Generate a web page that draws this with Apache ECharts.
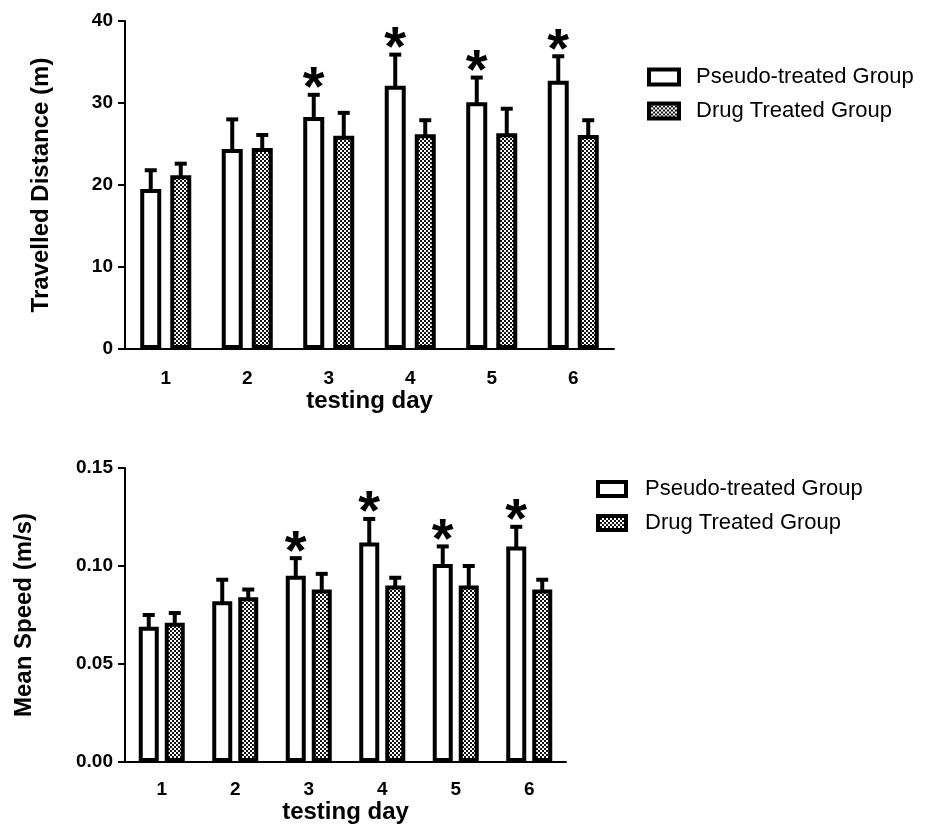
<!DOCTYPE html>
<html>
<head>
<meta charset="utf-8">
<title>Travelled distance and mean speed</title>
<script src="https://cdn.jsdelivr.net/npm/echarts@6/dist/echarts.min.js"></script>
<style>
  html, body { margin: 0; padding: 0; background: #fff; }
  #chart { width: 935px; height: 830px; }
</style>
</head>
<body>
<div id="chart"></div>
<script>
// data
var days = ['1', '2', '3', '4', '5', '6']
var seriesNames = ['Pseudo-treated Group', 'Drug Treated Group']

var distPseudo = [19.5, 24.4, 28.3, 32.1, 30.1, 32.7]
var distPseudoErr = [2.3, 3.6, 2.7, 3.8, 3.0, 3.0]
var distDrug = [21.2, 24.5, 26.0, 26.2, 26.3, 26.1]
var distDrugErr = [1.4, 1.6, 2.8, 1.7, 3.0, 1.8]

var speedPseudo = [0.069, 0.082, 0.095, 0.112, 0.101, 0.110]
var speedPseudoErr = [0.006, 0.011, 0.009, 0.012, 0.009, 0.010]
var speedDrug = [0.071, 0.084, 0.088, 0.090, 0.090, 0.088]
var speedDrugErr = [0.005, 0.004, 0.008, 0.004, 0.010, 0.005]

// 1 = significant (asterisk over the pseudo-treated bar)
var significant = [0, 0, 1, 1, 1, 1]

var FONT = 'Liberation Sans, Arial, Helvetica, sans-serif'

// checker fill for the drug treated bars
function makeChecker() {
  var c = document.createElement('canvas')
  c.width = 4
  c.height = 4
  var ctx = c.getContext('2d')
  ctx.fillStyle = '#fff'
  ctx.fillRect(0, 0, 4, 4)
  ctx.fillStyle = '#111'
  ctx.fillRect(0, 0, 2, 2)
  ctx.fillRect(2, 2, 2, 2)
  return c
}
var checker = { image: makeChecker(), repeat: 'repeat' }

function barSeries(name, values, idx, fill, bw, gap) {
  return {
    name: name,
    type: 'bar',
    xAxisIndex: idx,
    yAxisIndex: idx,
    data: values,
    barWidth: bw,
    barGap: gap,
    itemStyle: { color: fill, borderColor: '#000', borderWidth: 4 },
    emphasis: { disabled: true },
    animation: false,
    z: 2
  }
}

// upper error bar (+ asterisk) drawn on the bar at offset dx
function errSeries(values, errs, stars, idx, dx) {
  var data = values.map(function (v, i) {
    return [i, v, v + errs[i], stars ? stars[i] : 0]
  })
  return {
    type: 'custom',
    name: 'err',
    xAxisIndex: idx,
    yAxisIndex: idx,
    data: data,
    z: 3,
    animation: false,
    silent: true,
    renderItem: function (params, api) {
      var base = api.coord([api.value(0), api.value(1)])
      var top = api.coord([api.value(0), api.value(2)])
      var x = base[0] + dx
      var children = [
        { type: 'line', shape: { x1: x, y1: base[1] + 2, x2: x, y2: top[1] }, style: { stroke: '#000', lineWidth: 4 } },
        { type: 'line', shape: { x1: x - 6, y1: top[1], x2: x + 6, y2: top[1] }, style: { stroke: '#000', lineWidth: 4 } }
      ]
      if (api.value(3)) {
        children.push({
          type: 'text',
          style: {
            text: '*', x: x, y: top[1] - 5, fill: '#000',
            font: 'bold 56px ' + FONT, align: 'center', verticalAlign: 'middle'
          }
        })
      }
      return { type: 'group', children: children }
    }
  }
}

function xAxisOpt(idx, margin, nameGap) {
  return {
    type: 'category',
    gridIndex: idx,
    data: days,
    name: 'testing day',
    nameLocation: 'middle',
    nameGap: nameGap,
    nameTextStyle: { color: '#000', fontWeight: 'bold', fontSize: 24, fontFamily: FONT },
    axisLine: { lineStyle: { color: '#000', width: 2 } },
    axisTick: { alignWithLabel: true, length: 8, lineStyle: { color: '#000', width: 2 } },
    axisLabel: { color: '#000', fontWeight: 'bold', fontSize: 19, fontFamily: FONT, margin: margin }
  }
}

function yAxisOpt(idx, name, max, interval, nameGap, fmt) {
  return {
    type: 'value',
    gridIndex: idx,
    min: 0,
    max: max,
    interval: interval,
    name: name,
    nameLocation: 'middle',
    nameGap: nameGap,
    nameTextStyle: { color: '#000', fontWeight: 'bold', fontSize: 24, fontFamily: FONT },
    axisLine: { show: true, lineStyle: { color: '#000', width: 2 } },
    axisTick: { show: true, length: 7, lineStyle: { color: '#000', width: 2 } },
    axisLabel: { color: '#000', fontWeight: 'bold', fontSize: 19, fontFamily: FONT, margin: 12, formatter: fmt },
    splitLine: { show: false }
  }
}

function legendOpt(left, top, iw, ih, pad) {
  return {
    data: seriesNames,
    orient: 'vertical',
    left: left,
    top: top,
    padding: 0,
    icon: 'rect',
    itemWidth: iw,
    itemHeight: ih,
    itemGap: 12,
    selectedMode: false,
    itemStyle: { borderColor: '#000', borderWidth: 4 },
    textStyle: { color: '#000', fontSize: 22, fontFamily: FONT, padding: [0, 0, 0, pad] }
  }
}

var myChart = echarts.init(document.getElementById('chart'), null, { renderer: 'canvas' })

var option = {
  backgroundColor: '#fff',
  animation: false,
  grid: [
    { left: 125, top: 21, width: 489, height: 328 },
    { left: 125, top: 468, width: 441, height: 294 }
  ],
  legend: [
    legendOpt(647, 66, 30, 15, 12),
    legendOpt(596, 478, 28, 14, 14)
  ],
  xAxis: [
    xAxisOpt(0, 20, 39),
    xAxisOpt(1, 18, 36)
  ],
  yAxis: [
    yAxisOpt(0, 'Travelled Distance (m)', 40, 10, 72, function (v) { return v }),
    yAxisOpt(1, 'Mean Speed (m/s)', 0.15, 0.05, 89, function (v) { return v.toFixed(2) })
  ],
  series: [
    barSeries(seriesNames[0], distPseudo, 0, '#fff', 21, '43%'),
    barSeries(seriesNames[1], distDrug, 0, checker, 21, '43%'),
    errSeries(distPseudo, distPseudoErr, significant, 0, -15),
    errSeries(distDrug, distDrugErr, null, 0, 15),
    barSeries(seriesNames[0], speedPseudo, 1, '#fff', 20, '30%'),
    barSeries(seriesNames[1], speedDrug, 1, checker, 20, '30%'),
    errSeries(speedPseudo, speedPseudoErr, significant, 1, -13),
    errSeries(speedDrug, speedDrugErr, null, 1, 13)
  ]
}
myChart.setOption(option)
</script>
</body>
</html>
